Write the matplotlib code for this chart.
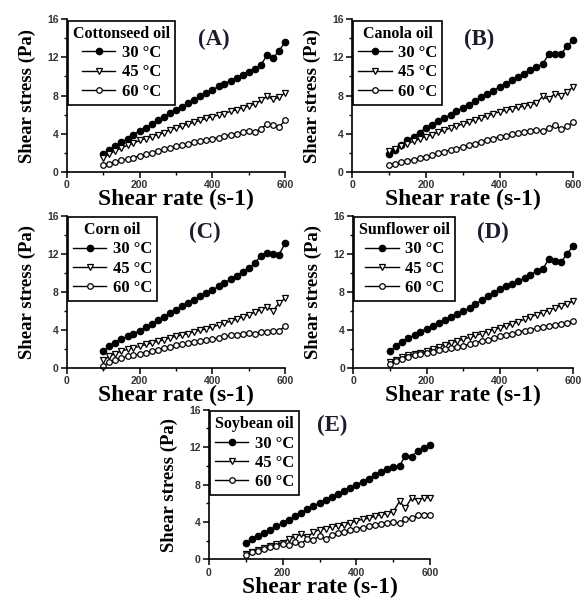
import matplotlib
matplotlib.use("Agg")
import matplotlib.pyplot as plt
from matplotlib.ticker import MultipleLocator

# shear rate (s-1), same for every run
shear_rate = [100, 117, 133, 150, 167, 183, 200, 217, 233, 250, 267, 283, 300, 317, 333, 350,
              367, 383, 400, 417, 433, 450, 467, 483, 500, 517, 533, 550, 567, 583, 600]

temps = ["30 °C", "45 °C", "60 °C"]

# shear stress (Pa)
cotton_30 = [1.9, 2.3, 2.7, 3.1, 3.5, 3.9, 4.3, 4.65, 5.0, 5.4, 5.8, 6.15, 6.5, 6.85, 7.2, 7.55,
             7.9, 8.25, 8.6, 8.95, 9.25, 9.55, 9.85, 10.2, 10.5, 10.8, 11.2, 12.2, 11.9, 12.7, 13.6]
cotton_45 = [1.5, 1.9, 2.2, 2.5, 2.8, 3.0, 3.3, 3.5, 3.7, 3.9, 4.1, 4.4, 4.6, 4.8, 5.0, 5.2,
             5.4, 5.6, 5.8, 5.95, 6.1, 6.35, 6.5, 6.7, 6.9, 7.1, 7.5, 7.9, 7.6, 7.8, 8.3]
cotton_60 = [0.7, 0.85, 1.0, 1.2, 1.35, 1.5, 1.7, 1.85, 2.0, 2.2, 2.35, 2.5, 2.7, 2.8, 2.95, 3.1,
             3.2, 3.35, 3.5, 3.6, 3.75, 3.9, 4.0, 4.15, 4.3, 4.2, 4.5, 5.0, 4.9, 4.7, 5.4]

canola_30 = [1.9, 2.3, 2.8, 3.3, 3.7, 4.1, 4.6, 4.95, 5.3, 5.65, 6.0, 6.35, 6.7, 7.05, 7.4, 7.8,
             8.15, 8.5, 8.9, 9.25, 9.6, 9.95, 10.3, 10.65, 11.0, 11.3, 12.3, 12.4, 12.3, 13.2, 13.8]
canola_45 = [2.2, 2.4, 2.7, 2.95, 3.2, 3.45, 3.7, 3.9, 4.15, 4.35, 4.6, 4.8, 5.0, 5.2, 5.45, 5.65,
             5.85, 6.1, 6.3, 6.45, 6.6, 6.75, 6.9, 7.05, 7.2, 7.9, 7.6, 8.2, 8.0, 8.4, 8.9]
canola_60 = [0.7, 0.85, 1.0, 1.15, 1.3, 1.45, 1.6, 1.75, 1.95, 2.1, 2.3, 2.45, 2.6, 2.8, 2.95, 3.15,
             3.35, 3.5, 3.7, 3.8, 3.95, 4.05, 4.15, 4.3, 4.4, 4.3, 4.6, 4.9, 4.5, 4.8, 5.2]

corn_30 = [1.75, 2.3, 2.65, 3.0, 3.3, 3.6, 3.9, 4.25, 4.6, 5.0, 5.35, 5.75, 6.1, 6.45, 6.8, 7.15,
           7.5, 7.85, 8.2, 8.55, 8.95, 9.3, 9.7, 10.1, 10.5, 11.0, 11.8, 12.1, 12.0, 11.9, 13.1]
corn_45 = [0.8, 1.2, 1.5, 1.75, 1.95, 2.1, 2.25, 2.45, 2.6, 2.8, 2.95, 3.15, 3.3, 3.45, 3.6, 3.8,
           3.95, 4.1, 4.3, 4.5, 4.7, 4.9, 5.1, 5.35, 5.6, 5.85, 6.1, 6.4, 6.0, 6.8, 7.3]
corn_60 = [0.2, 0.6, 0.85, 1.05, 1.2, 1.3, 1.45, 1.6, 1.75, 1.9, 2.05, 2.2, 2.35, 2.45, 2.6, 2.7,
           2.8, 2.9, 3.0, 3.15, 3.3, 3.4, 3.5, 3.6, 3.65, 3.6, 3.8, 3.75, 3.9, 3.85, 4.4]

sunflower_30 = [1.75, 2.3, 2.75, 3.1, 3.45, 3.8, 4.1, 4.4, 4.7, 5.0, 5.35, 5.65, 5.95, 6.3, 6.7, 7.1,
                7.5, 7.9, 8.3, 8.55, 8.85, 9.1, 9.4, 9.8, 10.15, 10.4, 11.4, 11.2, 11.1, 12.0, 12.8]
sunflower_45 = [0.6, 0.85, 1.1, 1.3, 1.45, 1.6, 1.75, 2.0, 2.2, 2.4, 2.6, 2.8, 3.0, 3.2, 3.4, 3.6,
                3.8, 4.0, 4.2, 4.4, 4.6, 4.85, 5.1, 5.35, 5.6, 5.8, 6.0, 6.3, 6.5, 6.7, 7.0]
sunflower_60 = [0.45, 0.7, 0.95, 1.15, 1.3, 1.45, 1.6, 1.7, 1.85, 1.95, 2.1, 2.2, 2.3, 2.5, 2.65, 2.8,
                2.95, 3.1, 3.3, 3.45, 3.6, 3.75, 3.9, 4.0, 4.15, 4.25, 4.4, 4.5, 4.6, 4.75, 4.9]

soybean_30 = [1.75, 2.15, 2.5, 2.85, 3.2, 3.55, 3.9, 4.25, 4.6, 4.95, 5.35, 5.7, 6.05, 6.35, 6.7, 7.0,
              7.35, 7.65, 8.0, 8.3, 8.65, 9.0, 9.3, 9.65, 9.9, 10.0, 11.1, 11.0, 11.6, 11.9, 12.2]
soybean_45 = [0.55, 0.8, 1.0, 1.2, 1.4, 1.6, 1.8, 2.2, 2.4, 2.7, 2.4, 2.9, 3.2, 3.3, 3.5, 3.6,
              3.7, 3.9, 4.1, 4.3, 4.4, 4.6, 4.8, 4.9, 5.1, 6.2, 5.5, 6.6, 6.3, 6.6, 6.6]
soybean_60 = [0.5, 0.75, 0.95, 1.15, 1.3, 1.45, 1.6, 1.5, 1.9, 1.7, 2.2, 2.1, 2.5, 2.2, 2.6, 2.8,
              2.95, 3.1, 3.3, 3.4, 3.55, 3.7, 3.8, 3.9, 4.0, 3.9, 4.3, 4.4, 4.7, 4.8, 4.8]

oils = ["Cottonseed oil", "Canola oil", "Corn oil", "Sunflower oil", "Soybean oil"]
tags = ["(A)", "(B)", "(C)", "(D)", "(E)"]
series = [
    [cotton_30, cotton_45, cotton_60],
    [canola_30, canola_45, canola_60],
    [corn_30, corn_45, corn_60],
    [sunflower_30, sunflower_45, sunflower_60],
    [soybean_30, soybean_45, soybean_60],
]

# axes rectangles in figure fractions
boxes = [
    [0.115, 0.713, 0.375, 0.255],
    [0.605, 0.713, 0.380, 0.255],
    [0.115, 0.386, 0.375, 0.254],
    [0.607, 0.386, 0.378, 0.254],
    [0.359, 0.066, 0.380, 0.250],
]
tag_pos = [(405, 13.9), (345, 13.9), (380, 14.2), (382, 14.2), (335, 14.3)]

serif = "Liberation Serif"
sans = "Liberation Sans"
styles = [
    dict(marker="o", mfc="black", ms=4.6),
    dict(marker="v", mfc="white", ms=4.0),
    dict(marker="o", mfc="white", ms=4.0),
]

fig = plt.figure(figsize=(5.82, 5.99), dpi=100)

for k in range(5):
    ax = fig.add_axes(boxes[k])
    for ys, lab, st in zip(series[k], temps, styles):
        ax.plot(shear_rate, ys, color="black", lw=1.0, mec="black", mew=0.9,
                label=lab, clip_on=False, **st)
    ax.set_xlim(0, 600)
    ax.set_ylim(0, 16)
    ax.spines["top"].set_visible(False)
    ax.spines["right"].set_visible(False)
    ax.spines["left"].set_linewidth(1.2)
    ax.spines["bottom"].set_linewidth(1.2)
    ax.xaxis.set_major_locator(MultipleLocator(200))
    ax.xaxis.set_minor_locator(MultipleLocator(100))
    ax.yaxis.set_major_locator(MultipleLocator(4))
    ax.yaxis.set_minor_locator(MultipleLocator(2))
    ax.tick_params(which="major", length=4, width=1.1, direction="out", pad=2)
    ax.tick_params(which="minor", length=2.5, width=1.0, direction="out")
    for t in ax.get_xticklabels() + ax.get_yticklabels():
        t.set_fontfamily(sans)
        t.set_fontweight("bold")
        t.set_fontsize(7.5)
        t.set_color("#333333")
    ax.set_xlabel("Shear rate (s-1)", fontfamily=serif, fontweight="bold", fontsize=17, labelpad=-1)
    ax.set_ylabel("Shear stress (Pa)", fontfamily=serif, fontweight="bold", fontsize=13.5, labelpad=8)
    ax.text(tag_pos[k][0], tag_pos[k][1], tags[k], fontfamily=serif, fontweight="bold",
            fontsize=16.5, color="#1c1c30", ha="center", va="center")
    leg = ax.legend(title=oils[k], loc="upper left", bbox_to_anchor=(0.005, 0.99),
                    borderaxespad=0, frameon=True, fancybox=False, handlelength=2.0,
                    handletextpad=0.4, borderpad=0.3, labelspacing=0.2,
                    prop=dict(family=serif, weight="bold", size=12))
    leg.get_title().set_fontfamily(serif)
    leg.get_title().set_fontweight("bold")
    leg.get_title().set_fontsize(11.5)
    leg.get_frame().set_edgecolor("black")
    leg.get_frame().set_linewidth(1.2)
    leg.get_frame().set_alpha(1)

fig.savefig("out.png", dpi=100)
